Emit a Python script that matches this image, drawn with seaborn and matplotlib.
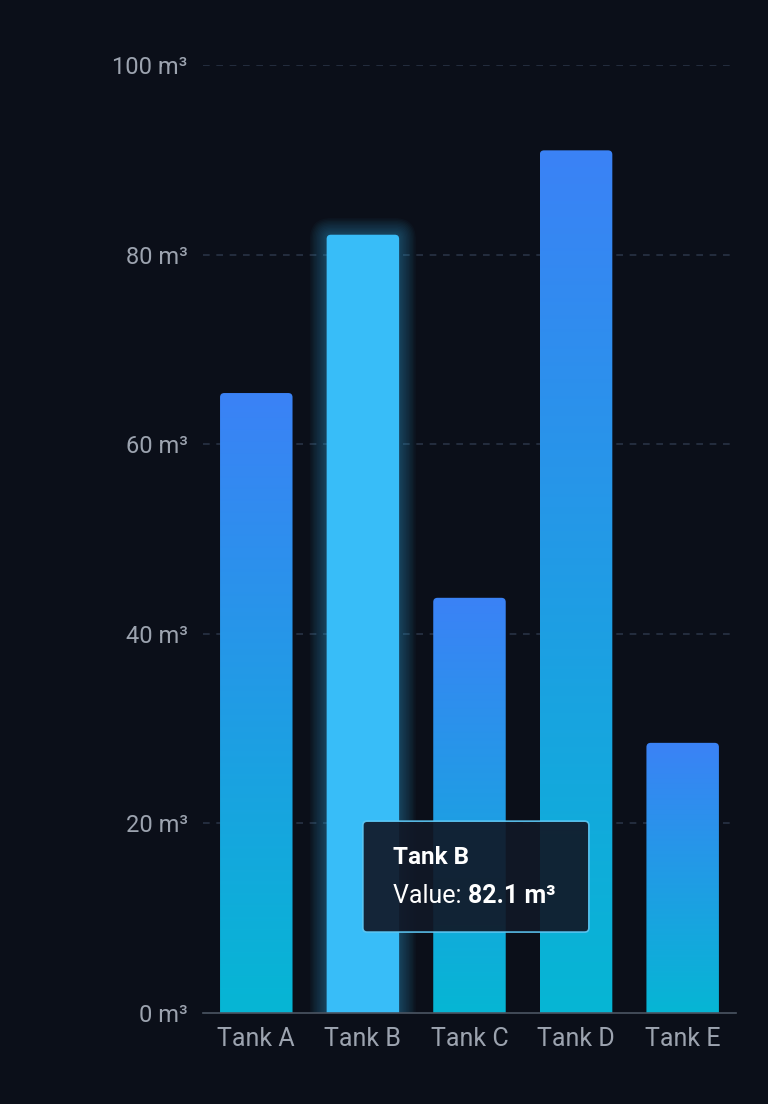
import numpy as np
import pandas as pd
import matplotlib
matplotlib.use("Agg")
import matplotlib.pyplot as plt
import seaborn as sns
from matplotlib.patches import FancyBboxPatch
from matplotlib.colors import LinearSegmentedColormap

# chart data
tanks = ["Tank A", "Tank B", "Tank C", "Tank D", "Tank E"]
volumes = [65.4, 82.1, 43.8, 91.0, 28.5]
y_ticks = [0, 20, 40, 60, 80, 100]
y_labels = [f"{t} m³" for t in y_ticks]
highlight = "Tank B"

bg = "#0b0f19"
df = pd.DataFrame({"tank": tanks, "volume": volumes})

sns.set_theme(style="dark")
plt.rcParams["font.family"] = ["Roboto", "DejaVu Sans"]

fig = plt.figure(figsize=(7.68, 11.04), dpi=100, facecolor=bg)
ax = fig.add_axes([0.2643, 0.0824, 0.6940, 0.8587])
ax.set_facecolor(bg)

sns.barplot(data=df, x="tank", y="volume", width=0.68, ax=ax, color="#3b82f6")
ax.set_ylim(0, 100)
ax.set_xlim(-0.5, len(tanks) - 0.5)

# gradient fill per bar (blue top -> cyan bottom), rounded top corners
cmap = LinearSegmentedColormap.from_list("tank", ["#06b6d4", "#3b82f6"])
grad = np.linspace(0, 1, 256).reshape(-1, 1)
aspect = 11.2
for name, patch in zip(tanks, list(ax.patches)):
    x0, w, h = patch.get_x(), patch.get_width(), patch.get_height()
    patch.set_visible(False)
    if name == highlight:
        # soft glow around the hovered bar
        for i in range(12):
            grow = (12 - i) * 0.013
            glow = FancyBboxPatch((x0 - grow, -5), w + 2 * grow, h + 5 + grow * aspect,
                                  boxstyle="round,pad=0,rounding_size=%.3f" % (0.04 + grow),
                                  mutation_aspect=aspect, fc="#38bdf8", ec="none",
                                  alpha=0.03, zorder=1)
            ax.add_patch(glow)
        box = FancyBboxPatch((x0, -5), w, h + 5, boxstyle="round,pad=0,rounding_size=0.04",
                             mutation_aspect=aspect, fc="#38bdf8", ec="none", zorder=2)
        ax.add_patch(box)
    else:
        box = FancyBboxPatch((x0, -5), w, h + 5, boxstyle="round,pad=0,rounding_size=0.04",
                             mutation_aspect=aspect, fc="none", ec="none", zorder=2)
        ax.add_patch(box)
        im = ax.imshow(grad, extent=[x0, x0 + w, 0, h], origin="lower", cmap=cmap,
                       aspect="auto", zorder=2)
        im.set_clip_path(box)

ax.set_ylim(0, 100)
ax.set_xlim(-0.5, len(tanks) - 0.5)

# grid and axes
ax.set_yticks(y_ticks)
ax.set_yticklabels(y_labels)
for t in y_ticks[1:]:
    ax.axhline(t, color="#283345", lw=1.2, ls=(0, (4, 4)), zorder=0)
for s in ["top", "right", "left"]:
    ax.spines[s].set_visible(False)
ax.spines["bottom"].set_color("#4b5563")
ax.spines["bottom"].set_linewidth(1.2)
ax.spines["bottom"].set_zorder(5)
ax.grid(False)
ax.tick_params(axis="y", length=0, pad=11, labelsize=17, labelcolor="#9ca3af")
ax.tick_params(axis="x", length=0, pad=10, labelsize=18, labelcolor="#9ca3af")
ax.set_xlabel("")
ax.set_ylabel("")

# tooltip
tip = FancyBboxPatch((0.300, 0.0854), 0.424, 0.117, transform=ax.transAxes,
                     boxstyle="round,pad=0,rounding_size=0.008", mutation_aspect=0.56,
                     fc="#111827", ec="#5ec8f5", lw=1.2, alpha=0.92, zorder=6)
ax.add_patch(tip)
hi = tanks.index(highlight)
ax.text(0.3565, 0.1637, highlight, transform=ax.transAxes, color="white",
        fontsize=17.5, fontweight="bold", va="center", ha="left", zorder=7)
lab = ax.text(0.3565, 0.1236, "Value: ", transform=ax.transAxes, color="white",
              fontsize=18, va="center", ha="left", zorder=7)
ax.annotate(f"{volumes[hi]} m³", xy=(1, 0.5), xycoords=lab, color="white",
            fontsize=18, fontweight="bold", va="center", ha="left", zorder=7)

fig.savefig("out.png", dpi=100, facecolor=bg)
